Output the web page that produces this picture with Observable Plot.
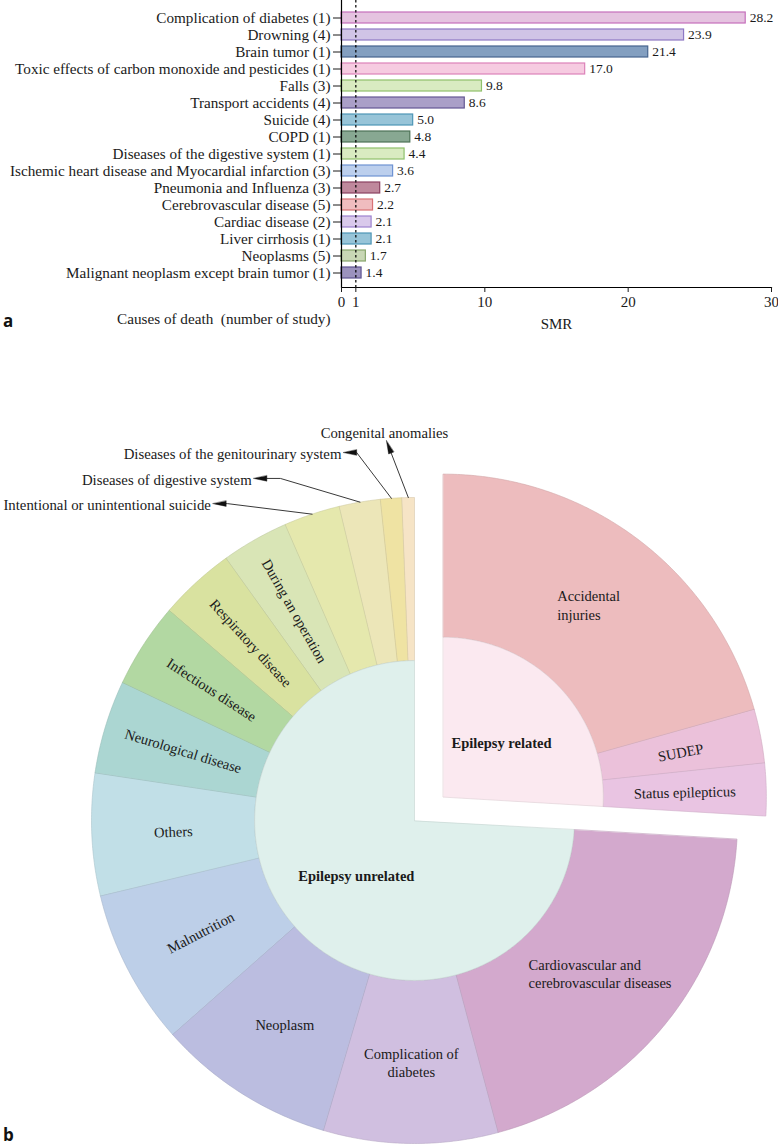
<!DOCTYPE html>
<html><head><meta charset="utf-8">
<script src="https://cdn.jsdelivr.net/npm/d3@7"></script>
<script src="https://cdn.jsdelivr.net/npm/@observablehq/plot@0.6"></script>
<style>
body{margin:0;background:#fff;}
#wrap{position:relative;width:778px;height:1146px;overflow:hidden;}
#top{position:absolute;left:0;top:0;}
#bottom{position:absolute;left:0;top:420px;}
.panel{position:absolute;font-family:"Open Sans","DejaVu Sans",sans-serif;font-weight:bold;font-size:17px;line-height:23px;color:#111;}
</style></head><body>
<div id="wrap"><div id="top"></div><div id="bottom"></div>
<div class="panel" style="left:3px;top:309px">a</div>
<div class="panel" style="left:3px;top:1123px">b</div>
</div>
<script>
// ---------- Panel a data ----------
const causes = ["Complication of diabetes (1)", "Drowning (4)", "Brain tumor (1)",
  "Toxic effects of carbon monoxide and pesticides (1)", "Falls (3)", "Transport accidents (4)",
  "Suicide (4)", "COPD (1)", "Diseases of the digestive system (1)",
  "Ischemic heart disease and Myocardial infarction (3)", "Pneumonia and Influenza (3)",
  "Cerebrovascular disease (5)", "Cardiac disease (2)", "Liver cirrhosis (1)", "Neoplasms (5)",
  "Malignant neoplasm except brain tumor (1)"];
const smr = [28.2, 23.9, 21.4, 17.0, 9.8, 8.6, 5.0, 4.8, 4.4, 3.6, 2.7, 2.2, 2.1, 2.1, 1.7, 1.4];
const barFills = ["#e5c3e0","#d0c4e6","#839fc0","#f6cbe1","#d9ebc1","#aa9fc8","#97c4d8","#88a892",
  "#d9ebc1","#bccfed","#bf889c","#f0bcbf","#d9c9eb","#97c4d8","#c8d7b5","#9b92bd"];
const barStrokes = ["#c56fbb","#8e78c4","#46648e","#dc82b9","#8fc06b","#655894","#4e96b6","#4d7257",
  "#8fc06b","#6f93d3","#8b4161","#d87276","#9d83cf","#4e96b6","#88a66d","#5f5592"];
const xTicks = [0, 1, 10, 20, 30];
const xLabel = "SMR";
const yLabel = "Causes of death\u00a0 (number of study)";

// ---------- Panel b data ----------
const relatedGroup = "Epilepsy related";
const unrelatedGroup = "Epilepsy unrelated";
const relatedCauses = ["Accidental injuries", "SUDEP", "Status epilepticus"];
const relatedShares = [20.64, 2.69, 2.61];
const unrelatedCauses = ["Cardiovascular and cerebrovascular diseases", "Complication of diabetes",
  "Neoplasm", "Malnutrition", "Others", "Neurological disease", "Infectious disease",
  "Respiratory disease", "During an operation", "Intentional or unintentional suicide",
  "Diseases of digestive system", "Diseases of the genitourinary system", "Congenital anomalies"];
const unrelatedShares = [19.92, 8.72, 8.92, 7.78, 6.11, 4.67, 4.25, 3.81, 3.36, 2.81, 2.06, 1.06, 0.61];
const relatedColors = ["#edbcbe", "#ebc1da", "#e9c4e2"];
const unrelatedColors = ["#d3a9cd","#d0bfe0","#bbbde0","#bdcfe8","#c1dfe7","#abd6d2","#b2d8a2",
  "#d9e2a0","#d9e5b6","#e5e8ad","#ece6b8","#efe3a3","#f6e4c6"];
const relatedInnerColor = "#fbe9f0";
const unrelatedInnerColor = "#dff0ec";

// ---------- Panel a ----------
const bars = causes.map((c, i) => ({cause: c, smr: smr[i], fill: barFills[i], stroke: barStrokes[i]}));
const chartA = Plot.plot({
  width: 778, height: 340,
  marginLeft: 341, marginRight: 7, marginTop: 2, marginBottom: 53,
  style: {fontFamily: "'Liberation Serif', 'Times New Roman', serif", fontSize: "15px", color: "#1a1a1a", background: "#fff"},
  x: {domain: [0, 30]},
  y: {domain: causes, paddingInner: 0.37, paddingOuter: 0.37},
  color: {type: "identity"},
  marks: [
    Plot.barX(bars, {x: "smr", y: "cause", fill: "fill", stroke: "stroke", strokeWidth: 1.2}),
    Plot.ruleX([1], {stroke: "#000", strokeWidth: 1.2, strokeDasharray: "2.5,2.5", insetTop: -2}),
    Plot.text(bars, {x: "smr", y: "cause", text: d => d.smr.toFixed(1), dx: 4, textAnchor: "start", fontSize: 13.5}),
    Plot.ruleX([0], {stroke: "#000", strokeWidth: 1.2, insetTop: -2}),
    Plot.frame({anchor: "bottom", stroke: "#000", strokeWidth: 1.2}),
    Plot.axisY({tickSize: 8, tickPadding: 3, label: null, fontSize: 15.2}),
    Plot.axisX({ticks: xTicks, tickSize: 5, tickPadding: 4, label: null, fontSize: 15, tickFormat: d => String(d)}),
    Plot.text([yLabel], {frameAnchor: "bottom-left", dx: -11, dy: 36, textAnchor: "end", fontSize: 15.2}),
    Plot.text([xLabel], {frameAnchor: "bottom", dy: 41, fontSize: 15})
  ]
});
document.getElementById("top").append(chartA);

// ---------- Panel b ----------
const total = d3.sum(relatedShares) + d3.sum(unrelatedShares);
const ring = {inner: 0.495, outer: 1};
const explode = {dist: 0.115, angle: 51 * Math.PI / 180};
const relCenter = [explode.dist * Math.sin(explode.angle), explode.dist * Math.cos(explode.angle)];
const unrelCenter = [0, 0];

let acc = 0;
const segs = [];
relatedCauses.forEach((c, i) => {
  const da = relatedShares[i] / total * 2 * Math.PI;
  segs.push({cause: c, a0: acc, a1: acc + da, fill: relatedColors[i], c: relCenter, ring: true});
  acc += da;
});
const relEnd = acc;
unrelatedCauses.forEach((c, i) => {
  const da = unrelatedShares[i] / total * 2 * Math.PI;
  segs.push({cause: c, a0: acc, a1: acc + da, fill: unrelatedColors[i], c: unrelCenter, ring: true});
  acc += da;
});
segs.push({cause: relatedGroup, a0: 0, a1: relEnd, fill: relatedInnerColor, c: relCenter, ring: false});
segs.push({cause: unrelatedGroup, a0: relEnd, a1: 2 * Math.PI, fill: unrelatedInnerColor, c: unrelCenter, ring: false});

function poly(s) {
  const r0 = s.ring ? ring.inner : 0, r1 = s.ring ? ring.outer : ring.inner;
  const n = Math.max(2, Math.ceil((s.a1 - s.a0) / (Math.PI / 360)));
  const stroke = d3.color(s.fill).darker(0.35).formatHex();
  const pts = [];
  const P = (r, t) => ({key: s.cause, x: s.c[0] + r * Math.sin(t), y: s.c[1] + r * Math.cos(t), fill: s.fill, stroke});
  for (let k = 0; k <= n; k++) pts.push(P(r1, s.a0 + (s.a1 - s.a0) * k / n));
  if (r0 === 0) pts.push({key: s.cause, x: s.c[0], y: s.c[1], fill: s.fill, stroke});
  else for (let k = n; k >= 0; k--) pts.push(P(r0, s.a0 + (s.a1 - s.a0) * k / n));
  return pts;
}
const slicePts = segs.flatMap(poly);

// label layout (style config, not data)
const labelCfg = {
  "Accidental injuries": {text: "Accidental\ninjuries", mode: "h", anchor: "start", dx: -32},
  "SUDEP": {mode: "t"},
  "Status epilepticus": {mode: "t"},
  "Cardiovascular and cerebrovascular diseases": {text: "Cardiovascular and\ncerebrovascular diseases", mode: "h", anchor: "start", dx: -73},
  "Complication of diabetes": {text: "Complication of\ndiabetes", mode: "h"},
  "Neoplasm": {mode: "h"},
  "Malnutrition": {mode: "r"}, "Others": {mode: "r"}, "Neurological disease": {mode: "r"},
  "Infectious disease": {mode: "r"}, "Respiratory disease": {mode: "r"}, "During an operation": {mode: "r"},
  [relatedGroup]: {mode: "h", bold: true}, [unrelatedGroup]: {mode: "h", bold: true}
};
const callCfg = {
  "Intentional or unintentional suicide": {via: [[-0.579, 0.981]], tip: [-0.624, 0.981]},
  "Diseases of digestive system": {via: [[-0.415, 1.059]], tip: [-0.498, 1.059]},
  "Diseases of the genitourinary system": {via: [[-0.176, 1.139]], tip: [-0.220, 1.139]},
  "Congenital anomalies": {via: [], tip: [-0.087, 1.176], label: [-0.093, 1.204]}
};
const headLen = 0.041, headHalf = 0.0085;

const labels = [];
segs.forEach(s => {
  const cfg = labelCfg[s.cause];
  if (!cfg) return;
  const mid = (s.a0 + s.a1) / 2;
  const r = s.ring ? (ring.inner + ring.outer) / 2 : ring.inner / 2;
  const deg = mid * 180 / Math.PI;
  const rot = cfg.mode === "r" ? deg - 270 : cfg.mode === "t" ? deg - 90 : 0;
  labels.push({x: s.c[0] + r * Math.sin(mid), y: s.c[1] + r * Math.cos(mid), text: cfg.text || s.cause,
    rotate: rot, anchor: cfg.anchor || "middle", dx: cfg.dx || 0, bold: !!cfg.bold, size: cfg.bold ? 14.5 : 14.5});
});

const lines = [], heads = [], callTexts = [];
segs.forEach(s => {
  const cfg = callCfg[s.cause];
  if (!cfg) return;
  const mid = (s.a0 + s.a1) / 2;
  const start = [s.c[0] + ring.outer * Math.sin(mid), s.c[1] + ring.outer * Math.cos(mid)];
  const path = [start, ...cfg.via];
  const last = path[path.length - 1];
  let dx = cfg.tip[0] - last[0], dy = cfg.tip[1] - last[1];
  const L = Math.hypot(dx, dy); dx /= L; dy /= L;
  const base = [cfg.tip[0] - dx * headLen, cfg.tip[1] - dy * headLen];
  const isBase = Math.hypot(last[0] - base[0], last[1] - base[1]) < 0.004;
  const pts = isBase ? path.slice(0, -1).concat([base]) : path.concat([base]);
  pts.forEach(p => lines.push({key: s.cause, x: p[0], y: p[1]}));
  const nx = -dy, ny = dx;
  heads.push({key: s.cause, x: cfg.tip[0], y: cfg.tip[1]});
  heads.push({key: s.cause, x: base[0] + nx * headHalf, y: base[1] + ny * headHalf});
  heads.push({key: s.cause, x: base[0] - nx * headHalf, y: base[1] - ny * headHalf});
  if (cfg.label) callTexts.push({x: cfg.label[0], y: cfg.label[1], text: s.cause, rotate: 0, anchor: "middle", dx: 0, size: 14.7});
  else callTexts.push({x: cfg.tip[0], y: cfg.tip[1], text: s.cause, rotate: 0, anchor: "end", dx: -2, size: 14.8});
});

const textMarks = labels.concat(callTexts).map(l => Plot.text([l], {
  x: "x", y: "y", text: "text", rotate: "rotate", textAnchor: l.anchor, dx: l.dx,
  fontSize: l.size, fontWeight: l.bold ? "bold" : "normal", lineHeight: 1.28, fill: "#1a1a1a"
}));

const chartB = Plot.plot({
  width: 778, height: 726,
  marginLeft: 0, marginRight: 0, marginTop: 0, marginBottom: 0,
  style: {fontFamily: "'Liberation Serif', 'Times New Roman', serif", background: "#fff"},
  x: {domain: [-414 / 323, 364 / 323], axis: null},
  y: {domain: [-326 / 323, 400 / 323], axis: null},
  color: {type: "identity"},
  marks: [
    Plot.line(slicePts, {x: "x", y: "y", z: "key", fill: "fill", stroke: "stroke", strokeWidth: 0.6, curve: "linear-closed"}),
    Plot.line(lines, {x: "x", y: "y", z: "key", stroke: "#222", strokeWidth: 0.9}),
    Plot.line(heads, {x: "x", y: "y", z: "key", fill: "#111", stroke: "#111", strokeWidth: 0.4, curve: "linear-closed"}),
    ...textMarks
  ]
});
document.getElementById("bottom").append(chartB);
</script>
</body></html>
